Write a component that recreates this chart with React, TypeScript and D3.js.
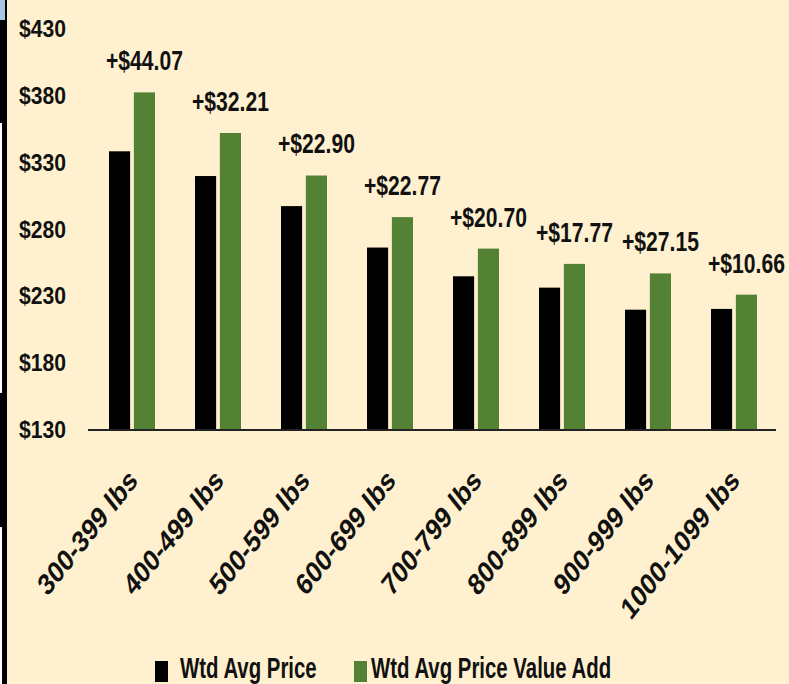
import React from "react";
import * as d3 from "d3";

const categories = ["300-399 lbs", "400-499 lbs", "500-599 lbs", "600-699 lbs", "700-799 lbs", "800-899 lbs", "900-999 lbs", "1000-1099 lbs"];
const seriesNames = ["Wtd Avg Price", "Wtd Avg Price Value Add"];
const avgPrice = [338.5, 320.0, 297.5, 266.5, 245.0, 236.5, 220.0, 220.6];
const valueAddPrice = [382.57, 352.21, 320.4, 289.27, 265.7, 254.27, 247.15, 231.26];
const diffLabels = ["+$44.07", "+$32.21", "+$22.90", "+$22.77", "+$20.70", "+$17.77", "+$27.15", "+$10.66"];
const yTicks = [130, 180, 230, 280, 330, 380, 430];

const W = 789;
const H = 684;
const BG = "#FFF1CF";
const GREEN = "#548235";
const FONT = "'Liberation Sans', Arial, sans-serif";

export default function App() {
  const y = d3.scaleLinear().domain([130, 430]).range([430, 29]);
  const x = d3.scaleBand<string>().domain(categories).range([88, 776]).paddingInner(0).paddingOuter(0);
  const xs = d3.scaleBand<string>().domain(seriesNames).range([21, 67]).paddingInner(0.15).paddingOuter(0);
  const colors = ["#000000", GREEN];
  const seriesData = [avgPrice, valueAddPrice];

  return (
    <svg width={W} height={H} style={{ position: "absolute", left: 0, top: 0, display: "block" }}>
      <rect x={0} y={0} width={W} height={H} fill={BG} />
      {/* left edge strip */}
      <rect x={0} y={0} width={7} height={H} fill="#000" />
      <rect x={0} y={123} width={2} height={270} fill="#fff" />
      <rect x={0} y={527} width={2} height={157} fill="#fff" />
      <rect x={0} y={0} width={5} height={20} fill="#a9c7e3" />

      {/* y tick labels */}
      {yTicks.map((t) => (
        <text
          key={t}
          transform={`translate(66,${y(t) + 8}) scale(0.88,1)`}
          textAnchor="end"
          fontFamily={FONT}
          fontWeight="bold"
          fontSize={24}
          fill="#111"
        >
          {"$" + t}
        </text>
      ))}

      {/* bars */}
      {categories.map((c, i) => (
        <g key={c} transform={`translate(${x(c)},0)`}>
          {seriesNames.map((s, j) => (
            <rect
              key={s}
              x={xs(s)}
              y={y(seriesData[j][i])}
              width={xs.bandwidth()}
              height={y(130) - y(seriesData[j][i])}
              fill={colors[j]}
            />
          ))}
        </g>
      ))}

      {/* axis line */}
      <line x1={88} x2={776} y1={y(130)} y2={y(130)} stroke="#222" strokeWidth={2} />

      {/* difference labels */}
      {categories.map((c, i) => {
        const cx = (x(c) as number) + (xs(seriesNames[1]) as number) + xs.bandwidth() / 2;
        const cy = y(valueAddPrice[i]) - 22;
        return (
          <text
            key={c}
            transform={`translate(${cx},${cy}) scale(0.88,1.18)`}
            textAnchor="middle"
            fontFamily={FONT}
            fontWeight="bold"
            fontSize={24}
            fill="#111"
          >
            {diffLabels[i]}
          </text>
        );
      })}

      {/* x labels */}
      {categories.map((c) => {
        const cx = (x(c) as number) + x.bandwidth() / 2 + 8;
        return (
          <text
            key={c}
            transform={`translate(${cx},482) scale(1,1.26) rotate(-45)`}
            textAnchor="end"
            fontFamily={FONT}
            fontWeight="bold"
            fontSize={24}
            fill="#111"
          >
            {c}
          </text>
        );
      })}

      {/* legend */}
      <rect x={155} y={661} width={13} height={21} fill="#000" />
      <text transform="translate(180,678) scale(0.85,1.22)" fontFamily={FONT} fontWeight="bold" fontSize={24} fill="#111">
        {seriesNames[0]}
      </text>
      <rect x={354} y={661} width={13} height={21} fill={GREEN} />
      <text transform="translate(371,678) scale(0.85,1.22)" fontFamily={FONT} fontWeight="bold" fontSize={24} fill="#111">
        {seriesNames[1]}
      </text>
    </svg>
  );
}
